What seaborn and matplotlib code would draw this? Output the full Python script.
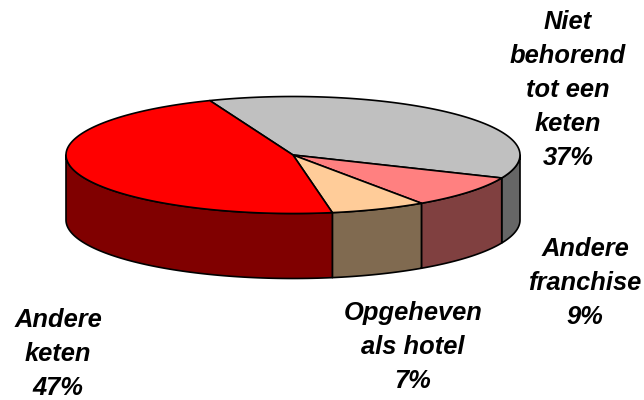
import numpy as np
import pandas as pd
import seaborn as sns
import matplotlib
matplotlib.use('Agg')
import matplotlib.pyplot as plt

labels = ['Niet\nbehorend\ntot een\nketen\n37%', 'Andere\nfranchise\n9%', 'Opgeheven\nals hotel\n7%', 'Andere\nketen\n47%']
shares = [37.4, 9.0, 6.8, 46.8]
top_colors = ['#C0C0C0', '#FF8080', '#FFCC99', '#FF0000']
side_colors = ['#666666', '#804040', '#806A50', '#800000']
label_x = [568, 585, 413, 58]
label_y = [90, 283, 347, 354]

# pie geometry in pixels
cx, cy = 293, 155
rx, ry = 227, 58.5
depth = 65
start = 111.5


def ell(t):
    t = np.radians(t)
    return cx + rx * np.cos(t), cy - ry * np.sin(t)


sns.set_theme(style='white')
plt.rcParams['font.family'] = ['Liberation Sans', 'DejaVu Sans']

df = pd.DataFrame({'label': labels, 'share': shares})
df['t1'] = start - df['share'].cumsum().shift(fill_value=0) * 3.6
df['t2'] = df['t1'] - df['share'] * 3.6

fig = plt.figure(figsize=(6.44, 4.0), dpi=100)
ax = fig.add_axes([0, 0, 1, 1])
ax.set_xlim(0, 644)
ax.set_ylim(400, 0)
ax.axis('off')

# outer wall, only the front half of the rim shows
for i, row in df.iterrows():
    lo, hi = row['t2'], row['t1']
    # keep the part between 180 and 360 degrees (mod 360)
    for shift in (0, -360, 360):
        a, b = max(lo + shift, 180), min(hi + shift, 360)
        if a < b:
            t = np.linspace(b, a, 80)
            x, y = ell(t)
            xs = np.concatenate([x, x[::-1]])
            ys = np.concatenate([y, y[::-1] + depth])
            ax.fill(xs, ys, facecolor=side_colors[i], edgecolor='black', lw=1.2, joinstyle='round')

# top slices
for i, row in df.iterrows():
    t = np.linspace(row['t1'], row['t2'], 160)
    x, y = ell(t)
    ax.fill(np.r_[cx, x], np.r_[cy, y], facecolor=top_colors[i], edgecolor='black', lw=1.2, joinstyle='round')

for i, row in df.iterrows():
    ax.text(label_x[i], label_y[i], row['label'], ha='center', va='center', fontsize=18.4,
            fontweight='bold', fontstyle='italic', color='black', linespacing=1.53)

fig.savefig('out.png', dpi=100)
plt.close(fig)
